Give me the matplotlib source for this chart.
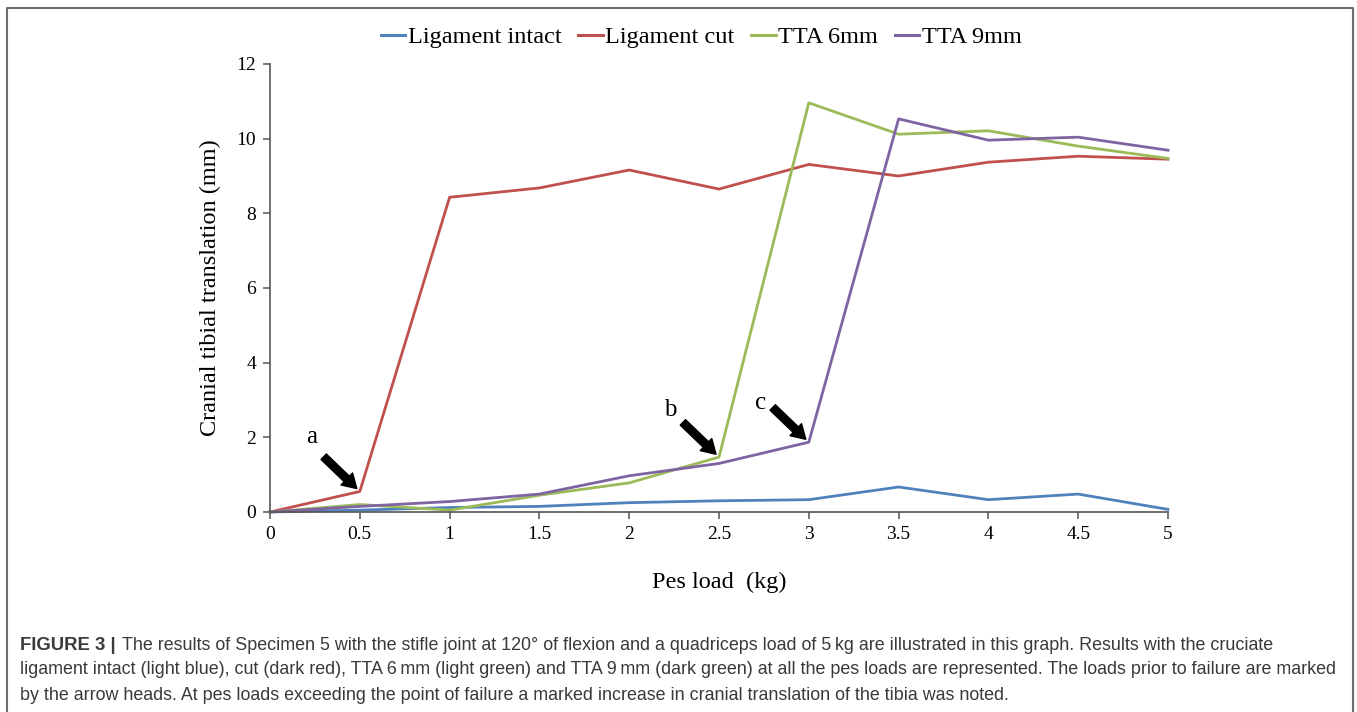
import numpy as np
import matplotlib
matplotlib.use("Agg")
import matplotlib.pyplot as plt
from matplotlib.lines import Line2D

# Dados
carga = [0, 0.5, 1, 1.5, 2, 2.5, 3, 3.5, 4, 4.5, 5]
lig_intacto = [0, 0.05, 0.12, 0.15, 0.25, 0.30, 0.33, 0.67, 0.33, 0.48, 0.07]
lig_cortado = [0, 0.55, 8.43, 8.68, 9.16, 8.65, 9.31, 9.00, 9.37, 9.53, 9.45]
tta_6mm = [0, 0.20, 0.05, 0.45, 0.78, 1.47, 10.96, 10.12, 10.21, 9.80, 9.47]
tta_9mm = [0, 0.15, 0.28, 0.48, 0.97, 1.30, 1.87, 10.53, 9.96, 10.04, 9.69]

series = ["Ligament intact", "Ligament cut", "TTA 6mm", "TTA 9mm"]
cores = ["#4F81BD", "#C0504D", "#9BBB59", "#8064A2"]

# pontos de falha (rótulo, série, índice, deslocamento do rótulo em pontos)
falhas = [("a", lig_cortado, 1, (-35, 39)),
          ("b", tta_6mm, 5, (-35, 34)),
          ("c", tta_9mm, 6, (-35, 28))]

fig = plt.figure(figsize=(13.57, 7.12), dpi=100)
W, H = 1357, 712
ax = fig.add_axes([270 / W, 1 - 512 / H, (1168 - 270) / W, (512 - 64) / H])

serif = "Liberation Serif"
for nome, ys, cor in zip(series, [lig_intacto, lig_cortado, tta_6mm, tta_9mm], cores):
    ax.plot(carga, ys, color=cor, lw=2.0, label=nome, clip_on=False)

ax.set_xlim(0, 5)
ax.set_ylim(0, 12)
ax.set_xticks(np.arange(0, 5.01, 0.5))
ax.set_xticklabels(["0", "0.5", "1", "1.5", "2", "2.5", "3", "3.5", "4", "4.5", "5"])
ax.set_yticks(np.arange(0, 12.1, 2))
for s in ["top", "right"]:
    ax.spines[s].set_visible(False)
for s in ["left", "bottom"]:
    ax.spines[s].set_color("#555555")
    ax.spines[s].set_linewidth(1.2)
ax.tick_params(direction="out", length=5, width=1.1, color="#555555", labelsize=14, pad=5)
for lab in ax.get_xticklabels() + ax.get_yticklabels():
    lab.set_fontfamily(serif)

ax.set_xlabel("Pes load  (kg)", fontfamily=serif, fontsize=17.5, labelpad=21)
ax.set_ylabel("Cranial tibial translation (mm)", fontfamily=serif, fontsize=17.5, labelpad=11)

# setas indicando as cargas antes da falha
for rot, ys, i, off in falhas:
    ax.annotate("", xy=(carga[i], ys[i]), xytext=(-26, 25), textcoords="offset points",
                arrowprops=dict(arrowstyle="simple,head_length=1.0,head_width=1.2,tail_width=0.55",
                                color="black", shrinkA=0, shrinkB=3))
    ax.annotate(rot, xy=(carga[i], ys[i]), xytext=off, textcoords="offset points",
                fontfamily=serif, fontsize=18, ha="center", va="center")

leg = fig.legend(loc="center", bbox_to_anchor=(0.5168, 1 - 37 / H), ncol=4, frameon=False,
                 prop={"family": serif, "size": 17.5}, handlelength=1.0, handletextpad=0.1,
                 columnspacing=0.7)
for l in leg.get_lines():
    l.set_linewidth(2.2)

# moldura cinza ao redor da figura
x0, x1, yt = 7 / W, 1353 / W, 1 - 8 / H
fig.add_artist(Line2D([x0, x0, x1, x1], [0, yt, yt, 0], transform=fig.transFigure,
                      color="#6e6e6e", lw=1.5))

# legenda da figura
sans = "Liberation Sans"
cor_txt = "#3a3a3a"
linhas = [
    "The results of Specimen 5 with the stifle joint at 120\u00b0 of flexion and a quadriceps load of 5\u2009kg are illustrated in this graph. Results with the cruciate",
    "ligament intact (light blue), cut (dark red), TTA 6\u2009mm (light green) and TTA 9\u2009mm (dark green) at all the pes loads are represented. The loads prior to failure are marked",
    "by the arrow heads. At pes loads exceeding the point of failure a marked increase in cranial translation of the tibia was noted.",
]
fam = [sans, "DejaVu Sans"]
tam = 12.9
t1 = fig.text(20 / W, 1 - 645 / H, "FIGURE 3 |", fontfamily=fam, fontsize=tam + 0.4,
              fontweight="bold", color=cor_txt, va="center")
fig.canvas.draw()
bb = t1.get_window_extent()
fig.text((bb.x1 + 6) / W, 1 - 645 / H, linhas[0], fontfamily=fam, fontsize=tam,
         color=cor_txt, va="center")
fig.text(20 / W, 1 - 670 / H, linhas[1], fontfamily=fam, fontsize=tam, color=cor_txt, va="center")
fig.text(20 / W, 1 - 695 / H, linhas[2], fontfamily=fam, fontsize=tam, color=cor_txt, va="center")

fig.savefig("out.png", dpi=100)
